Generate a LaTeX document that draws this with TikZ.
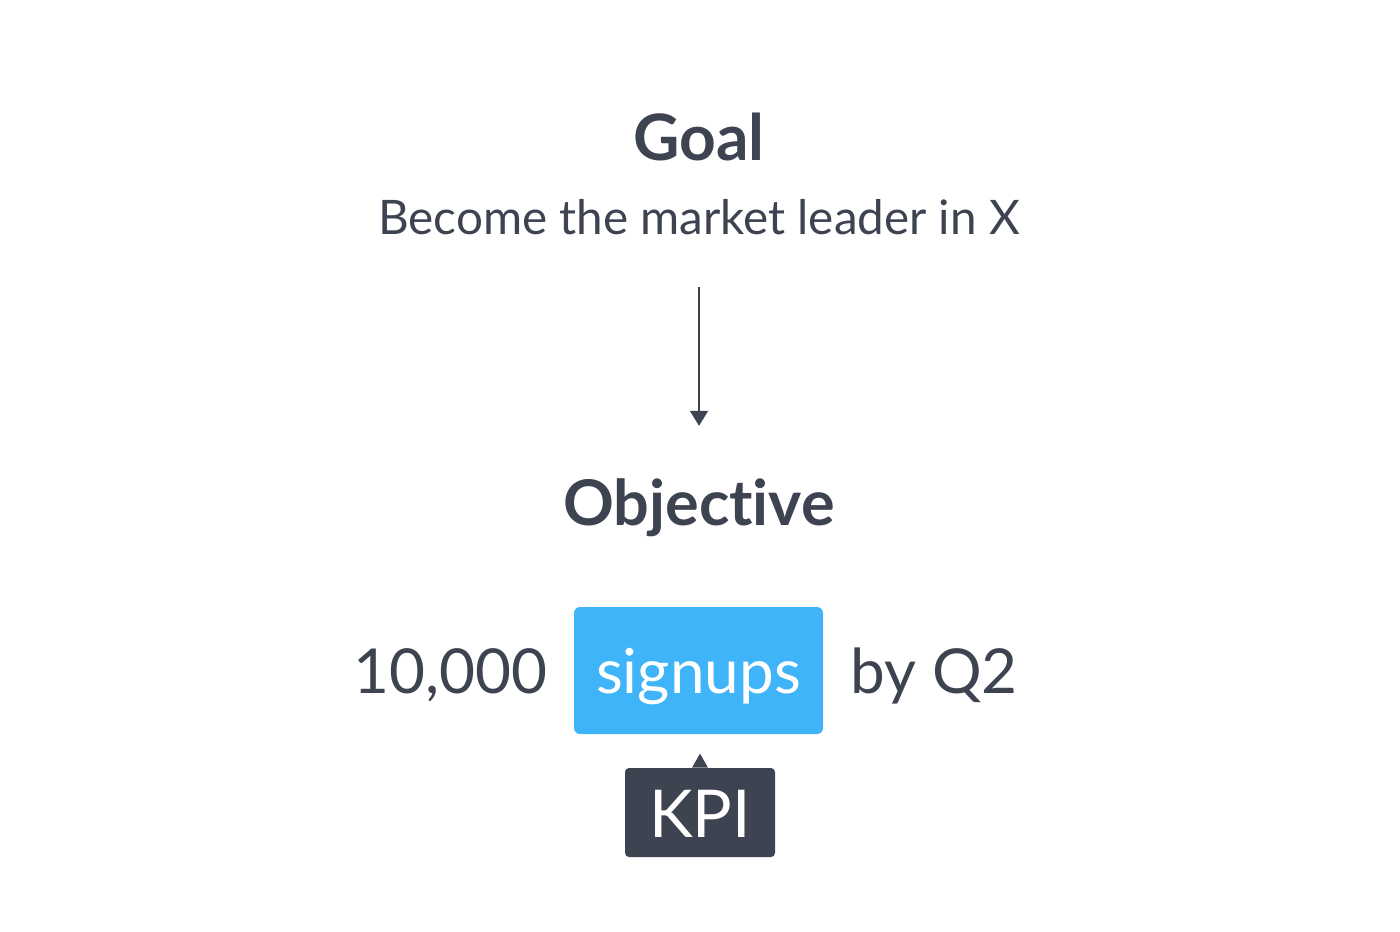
\documentclass[tikz,border=0pt]{standalone}
\usepackage{fontspec}
\setmainfont[Ligatures = NoCommon]{Lato}
\usepackage{xcolor}
\usetikzlibrary{arrows.meta,positioning,shapes,calc}
\definecolor{ink}{HTML}{3D4350}
\definecolor{signblue}{HTML}{40B4F9}

\begin{document}
\begin{tikzpicture}[x = .5pt, y = -.5pt,
    heading/.style = {inner sep = 0, text = ink, font = \fontsize{32}{38}\selectfont\bfseries},
    plain/.style = {inner sep = 0, text = ink, font = \fontsize{31}{38}\selectfont},
    flow/.style = {draw = ink, line width = 1pt, -{Triangle[width = 9pt, length = 7.5pt]}}]
    \useasboundingbox (0,0) rectangle (1400,931);
    \node[heading, anchor = base] (goal) at (699,160) {Goal};
    \node[anchor = base, inner sep = 0, text = ink, font = \fontsize{23.8}{30}\selectfont] (mission) at (699,234) {Become the market leader in X};
    \node[heading, font = \fontsize{31.5}{38}\selectfont\bfseries, anchor = base] (objective) at (699,525) {Objective};
    \draw[flow, shorten <= 26pt, shorten >= 26pt] (mission.south) -- (objective.north);
    % key result line
    \node[plain, anchor = base, fill = signblue, text = white, rounded corners = 3pt,
        minimum width = 124.5pt, text height = 43pt, text depth = 20.5pt] (signups) at (698.5,693) {signups};
    \node[plain, anchor = base east] (target) at (548,693) {10,000};
    \node[plain, anchor = base west] (deadline) at (850,693) {by Q2};
    % tag under the metric
    \node[anchor = base, inner sep = 0, fill = ink, text = white, rounded corners = 2pt,
        font = \fontsize{33}{40}\selectfont,
        minimum width = 75pt, text height = 34.5pt, text depth = 10pt] (kpi) at (700,837) {KPI};
    \fill[ink] ($(kpi.north) + (-8,0)$) -- ($(kpi.north) + (0,-14)$) -- ($(kpi.north) + (8,0)$) -- cycle;
\end{tikzpicture}
\end{document}
